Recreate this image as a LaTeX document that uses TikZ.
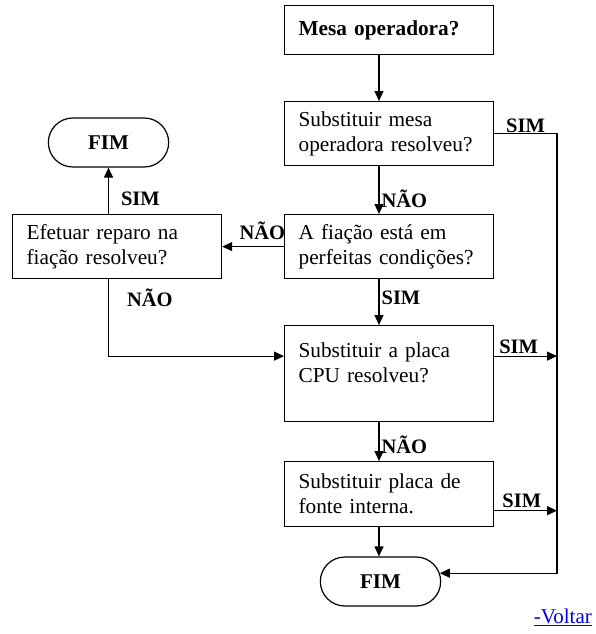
\documentclass[tikz,border=0pt]{standalone}
\usepackage{fontspec}
\setmainfont{Liberation Serif}
\usetikzlibrary{arrows.meta, shapes.misc, calc}
\definecolor{linkblue}{RGB}{0,0,238}
\tikzset{
  box/.style={draw, line width=1.2pt, fill=white, anchor=north west, text width=181pt, inner xsep=14pt, inner ysep=0pt, align=left, minimum width=209pt, font=\fontsize{21.3}{25}\selectfont},
  fim/.style={draw, line width=1.2pt, rounded rectangle, minimum width=127pt, minimum height=49pt, font=\fontsize{21}{25}\selectfont\bfseries},
  flow/.style={line width=1.2pt, -{Triangle[length=10pt, width=9pt]}},
  lbl/.style={font=\fontsize{20.5}{24}\selectfont\bfseries, inner sep=2pt}
}
\begin{document}
\begin{tikzpicture}[x=1pt, y=-1pt]
  \useasboundingbox (0,0) rectangle (595,634);
  % column of the main arrows and the rail on the right
  \coordinate (spine) at (379,0);
  \coordinate (rail) at (557,0);

  % Boxes
  \node [box, minimum height=49pt, font=\fontsize{21.3}{25}\selectfont\bfseries] (mesa) at (284,5) {Mesa operadora?};
  \node [box, minimum height=64pt] (trocamesa) at (284,101) {Substituir mesa\\operadora resolveu?};
  \node [box, minimum height=64pt] (fiacao) at (284,214) {A fiação está em\\perfeitas condições?};
  \node [box, minimum height=64pt] (reparo) at (12,214) {Efetuar reparo na\\fiação resolveu?};
  \node [box, minimum height=96pt] (cpu) at (284,325) {Substituir a placa\\CPU resolveu?\\[-3pt]\mbox{}};
  \node [box, minimum height=65pt] (fonte) at (284,461) {Substituir placa de\\fonte interna.};
  \node [fim] (fimA) at (108.5,142.5) {FIM};
  \node [fim] (fimB) at (380.5,581.5) {FIM};

  \coordinate (cpuL) at ($(cpu.north west)!0.32!(cpu.south west)$);
  \coordinate (cpuR) at ($(cpu.north east)!0.32!(cpu.south east)$);
  \coordinate (fonteR) at ($(fonte.north east)!0.75!(fonte.south east)$);

  % Main column
  \draw [flow] (mesa.south -| spine) -- (trocamesa.north -| spine);
  \draw [flow] (trocamesa.south -| spine) -- node [lbl, pos=0.69, right] {NÃO} (fiacao.north -| spine);
  \draw [flow] (fiacao.south -| spine) -- node [lbl, pos=0.4, right] {SIM} (cpu.north -| spine);
  \draw [flow] (cpu.south -| spine) -- node [lbl, pos=0.57, right] {NÃO} (fonte.north -| spine);
  \draw [flow] (fonte.south -| spine) -- (fimB.north -| spine);

  % Left branch
  \draw [flow] (fiacao.west) -- node [lbl, pos=0.35, above=4pt] {NÃO} (reparo.east);
  \draw [flow] (reparo.north -| fimA) -- node [lbl, pos=0.33, right=10pt] {SIM} (fimA.south);
  \draw [flow] (reparo.south -| fimA) -- node [lbl, pos=0.24, right=16pt] {NÃO} (fimA |- cpuL) -- (cpuL);

  % SIM rail
  \draw [flow] (trocamesa.east) -- node [lbl, above, inner sep=0pt] {SIM} (trocamesa.east -| rail) -- (rail |- fimB.8) -- (fimB.8);
  \draw [flow] (cpuR) -- node [lbl, pos=0.39, above] {SIM} (rail |- cpuR);
  \draw [flow] (fonteR) -- node [lbl, pos=0.44, above] {SIM} (rail |- fonteR);

  \node [font=\fontsize{21}{24}\selectfont, text=linkblue, anchor=east, inner sep=0pt] (voltar) at (592,617) {\underline{-Voltar}};
\end{tikzpicture}
\end{document}
